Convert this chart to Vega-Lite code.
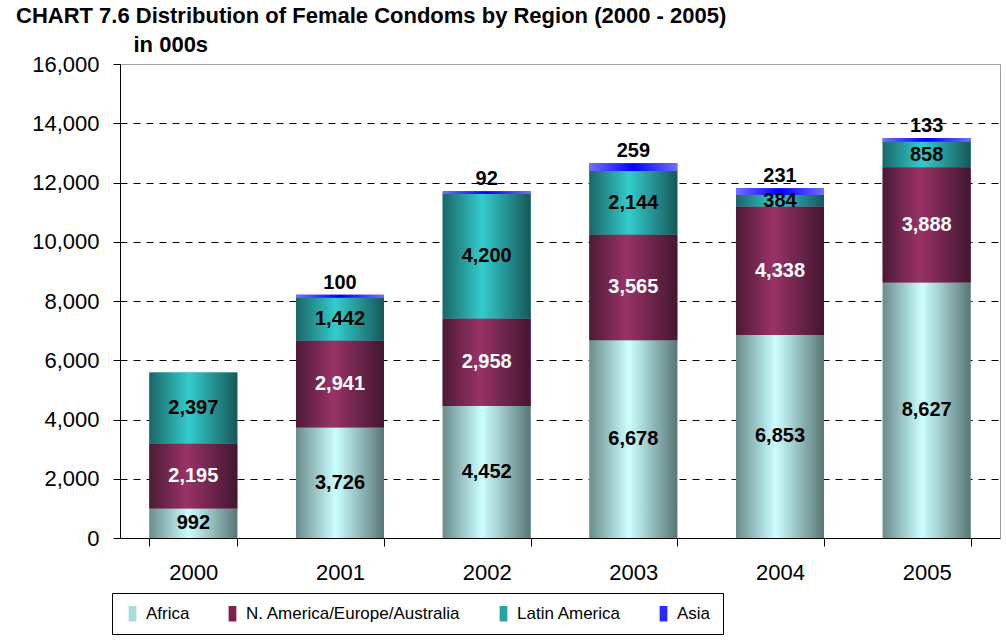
{
  "$schema": "https://vega.github.io/schema/vega-lite/v6.json",
  "autosize": {"type": "none"},
  "width": 880,
  "height": 474,
  "padding": {"left": 120, "top": 64, "right": 6, "bottom": 102},
  "background": "white",
  "title": {
    "text": "CHART 7.6 Distribution of Female Condoms by Region (2000 - 2005)",
    "anchor": "start",
    "frame": "group",
    "orient": "top",
    "dx": -104,
    "offset": 30,
    "dy": 42,
    "baseline": "alphabetic",
    "font": "Liberation Sans",
    "fontSize": 22,
    "fontWeight": "bold",
    "color": "black"
  },
  "data": {
    "values": [
      {"year": "2000", "region": "Africa", "value": 992},
      {"year": "2000", "region": "N. America/Europe/Australia", "value": 2195},
      {"year": "2000", "region": "Latin America", "value": 2397},
      {"year": "2000", "region": "Asia", "value": 0},
      {"year": "2001", "region": "Africa", "value": 3726},
      {"year": "2001", "region": "N. America/Europe/Australia", "value": 2941},
      {"year": "2001", "region": "Latin America", "value": 1442},
      {"year": "2001", "region": "Asia", "value": 100},
      {"year": "2002", "region": "Africa", "value": 4452},
      {"year": "2002", "region": "N. America/Europe/Australia", "value": 2958},
      {"year": "2002", "region": "Latin America", "value": 4200},
      {"year": "2002", "region": "Asia", "value": 92},
      {"year": "2003", "region": "Africa", "value": 6678},
      {"year": "2003", "region": "N. America/Europe/Australia", "value": 3565},
      {"year": "2003", "region": "Latin America", "value": 2144},
      {"year": "2003", "region": "Asia", "value": 259},
      {"year": "2004", "region": "Africa", "value": 6853},
      {"year": "2004", "region": "N. America/Europe/Australia", "value": 4338},
      {"year": "2004", "region": "Latin America", "value": 384},
      {"year": "2004", "region": "Asia", "value": 231},
      {"year": "2005", "region": "Africa", "value": 8627},
      {"year": "2005", "region": "N. America/Europe/Australia", "value": 3888},
      {"year": "2005", "region": "Latin America", "value": 858},
      {"year": "2005", "region": "Asia", "value": 133}
    ]
  },
  "transform": [
    {"calculate": "indexof(['Africa','N. America/Europe/Australia','Latin America','Asia'], datum.region)", "as": "ord"},
    {"stack": "value", "groupby": ["year"], "sort": [{"field": "ord", "order": "ascending"}], "as": ["y0", "y1"]},
    {"calculate": "(datum.y0 + datum.y1) / 2", "as": "ymid"}
  ],
  "encoding": {
    "x": {
      "field": "year",
      "type": "ordinal",
      "scale": {"paddingInner": 0.4, "paddingOuter": 0.2},
      "axis": {
        "title": null,
        "labelAngle": 0,
        "labelFont": "Liberation Sans",
        "labelFontSize": 22,
        "labelColor": "black",
        "labelPadding": 16,
        "domainColor": "black",
        "domainWidth": 1,
        "tickColor": "black",
        "tickSize": 8,
        "tickBand": "extent",
        "ticks": true,
        "grid": false
      }
    }
  },
  "layer": [
    {
      "mark": {"type": "bar", "opacity": 1},
      "encoding": {
        "y": {
          "field": "y0",
          "type": "quantitative",
          "scale": {"domain": [0, 16000], "nice": false},
          "axis": {
            "title": "in 000s",
            "titleAngle": 0,
            "titleAlign": "left",
            "titleBaseline": "alphabetic",
            "titleX": 13,
            "titleY": -13,
            "titleFont": "Liberation Sans",
            "titleFontSize": 22,
            "titleFontWeight": "bold",
            "titleColor": "black",
            "values": [0, 2000, 4000, 6000, 8000, 10000, 12000, 14000, 16000],
            "format": ",d",
            "labelFont": "Liberation Sans",
            "labelFontSize": 22,
            "labelColor": "black",
            "labelPadding": 14,
            "tickSize": 7,
            "tickColor": "black",
            "domainColor": "black",
            "grid": true,
            "gridColor": "black",
            "gridDash": [7, 6],
            "gridWidth": 1,
            "gridOpacity": {"condition": {"test": "datum.value <= 0 || datum.value >= 16000", "value": 0}, "value": 1}
          }
        },
        "y2": {"field": "y1"},
        "color": {
          "field": "region",
          "type": "nominal",
          "scale": {
            "domain": ["Africa", "N. America/Europe/Australia", "Latin America", "Asia"],
            "range": ["#a6dcdc", "#80204f", "#27a3a3", "#2a2aff"]
          },
          "legend": {
            "title": null,
            "orient": "none",
            "direction": "horizontal",
            "legendX": -8,
            "legendY": 529,
            "padding": 12,
            "strokeColor": "black",
            "fillColor": "white",
            "columnPadding": 34,
            "labelFont": "Liberation Sans",
            "labelFontSize": 17,
            "labelLimit": 400,
            "labelColor": "black",
            "labelOffset": 5,
            "symbolType": "M-0.5,-1L0.5,-1L0.5,1L-0.5,1Z",
            "symbolSize": 240,
            "symbolStrokeWidth": 0,
            "symbolOpacity": 1
          }
        }
      }
    },
    {
      "transform": [{"filter": "datum.region === 'Africa'"}],
      "mark": {
        "type": "bar",
        "color": {"gradient": "linear", "x1": 0, "y1": 0, "x2": 1, "y2": 0,
          "stops": [{"offset": 0, "color": "#6a8c8c"}, {"offset": 0.45, "color": "#ccffff"}, {"offset": 1, "color": "#587676"}]}
      },
      "encoding": {"y": {"field": "y0", "type": "quantitative"}, "y2": {"field": "y1"}}
    },
    {
      "transform": [{"filter": "datum.region === 'N. America/Europe/Australia'"}],
      "mark": {
        "type": "bar",
        "color": {"gradient": "linear", "x1": 0, "y1": 0, "x2": 1, "y2": 0,
          "stops": [{"offset": 0, "color": "#4c1a36"}, {"offset": 0.42, "color": "#993366"}, {"offset": 1, "color": "#421630"}]}
      },
      "encoding": {"y": {"field": "y0", "type": "quantitative"}, "y2": {"field": "y1"}}
    },
    {
      "transform": [{"filter": "datum.region === 'Latin America'"}],
      "mark": {
        "type": "bar",
        "color": {"gradient": "linear", "x1": 0, "y1": 0, "x2": 1, "y2": 0,
          "stops": [{"offset": 0, "color": "#1a6666"}, {"offset": 0.45, "color": "#33cccc"}, {"offset": 1, "color": "#165858"}]}
      },
      "encoding": {"y": {"field": "y0", "type": "quantitative"}, "y2": {"field": "y1"}}
    },
    {
      "transform": [{"filter": "datum.region === 'Asia' && datum.value > 0"}],
      "mark": {
        "type": "bar",
        "color": {"gradient": "linear", "x1": 0, "y1": 0, "x2": 1, "y2": 0,
          "stops": [{"offset": 0, "color": "#7070ff"}, {"offset": 0.5, "color": "#0000ff"}, {"offset": 1, "color": "#7070ff"}]}
      },
      "encoding": {"y": {"field": "y0", "type": "quantitative"}, "y2": {"field": "y1"}}
    },
    {
      "transform": [{"filter": "datum.region !== 'Asia'"}],
      "mark": {"type": "text", "font": "Liberation Sans", "fontSize": 20, "fontWeight": "bold", "baseline": "middle", "align": "center"},
      "encoding": {
        "y": {"field": "ymid", "type": "quantitative"},
        "text": {"field": "value", "type": "quantitative", "format": ",d"},
        "color": {"condition": {"test": "datum.region === 'N. America/Europe/Australia'", "value": "white"}, "value": "black"}
      }
    },
    {
      "transform": [{"filter": "datum.region === 'Asia' && datum.value > 0"}],
      "mark": {"type": "text", "font": "Liberation Sans", "fontSize": 20, "fontWeight": "bold", "baseline": "middle", "align": "center", "dy": -12, "color": "black"},
      "encoding": {
        "y": {"field": "y1", "type": "quantitative"},
        "text": {"field": "value", "type": "quantitative", "format": ",d"}
      }
    }
  ],
  "config": {
    "view": {"stroke": "#a0a0a0", "strokeWidth": 1},
    "font": "Liberation Sans"
  }
}
